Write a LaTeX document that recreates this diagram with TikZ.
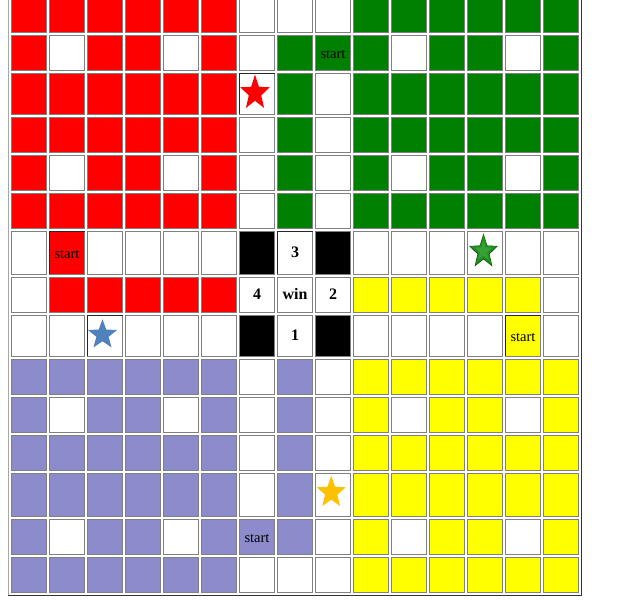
\documentclass[tikz,border=0pt]{standalone}
\usepackage{fontspec}
\setmainfont{Liberation Serif}
\definecolor{colR}{RGB}{255,0,0}
\definecolor{colG}{RGB}{0,128,0}
\definecolor{colY}{RGB}{255,255,0}
\definecolor{colP}{RGB}{140,140,204}
\definecolor{colW}{RGB}{255,255,255}
\definecolor{colK}{RGB}{0,0,0}
\definecolor{cellline}{RGB}{128,128,128}
\definecolor{starblue}{RGB}{79,129,189}
\definecolor{stargold}{RGB}{255,192,0}
\definecolor{stargreen}{RGB}{34,139,34}
\definecolor{stargreenlight}{RGB}{55,160,55}
\definecolor{stargreendark}{RGB}{15,95,15}
\newcommand\drawstar[5]{%
  \begin{scope}[shift={(#1,#2)},xscale=#3,yscale=-#4]
    \fill[#5] (90:1) \foreach \a in {1,...,4}{ -- (90+72*\a-36:0.42) -- (90+72*\a:1)} -- (54:0.42) -- cycle;
  \end{scope}}
\begin{document}
\begin{tikzpicture}[x=1pt,y=-1pt,
  cell/.style={rectangle, draw=cellline, line width=1pt, minimum width=35pt, inner sep=0pt, outer sep=0pt},
  starttext/.style={font=\fontsize{14.5}{16}\selectfont, inner sep=0pt, yshift=-1.5pt},
  numtext/.style={font=\bfseries\fontsize{16}{18}\selectfont, inner sep=0pt},
  darkedge/.style={draw=black!85, line width=1pt}]
\useasboundingbox (0,0) rectangle (641,603);
\clip (0,0) rectangle (641,603);
\fill[white] (0,0) rectangle (641,603);
\foreach \r/\t/\h/\codes in {
  0/-3.5/36/{R,R,R,R,R,R,W,W,W,G,G,G,G,G,G},
  1/34.5/36/{R,W,R,R,W,R,W,G,G,G,W,G,G,W,G},
  2/72.5/42/{R,R,R,R,R,R,W,G,W,G,G,G,G,G,G},
  3/116.5/36/{R,R,R,R,R,R,W,G,W,G,G,G,G,G,G},
  4/154.5/36/{R,W,R,R,W,R,W,G,W,G,W,G,G,W,G},
  5/192.5/36/{R,R,R,R,R,R,W,G,W,G,G,G,G,G,G},
  6/230.5/44/{W,R,W,W,W,W,K,W,K,W,W,W,W,W,W},
  7/276.5/36/{W,R,R,R,R,R,W,W,W,Y,Y,Y,Y,Y,W},
  8/314.5/42/{W,W,W,W,W,W,K,W,K,W,W,W,W,Y,W},
  9/358.5/36/{P,P,P,P,P,P,W,P,W,Y,Y,Y,Y,Y,Y},
  10/396.5/36/{P,W,P,P,W,P,W,P,W,Y,W,Y,Y,W,Y},
  11/434.5/36/{P,P,P,P,P,P,W,P,W,Y,Y,Y,Y,Y,Y},
  12/472.5/44/{P,P,P,P,P,P,W,P,W,Y,Y,Y,Y,Y,Y},
  13/518.5/36/{P,W,P,P,W,P,P,P,W,Y,W,Y,Y,W,Y},
  14/556.5/36/{P,P,P,P,P,P,W,W,W,Y,Y,Y,Y,Y,Y}}{
  \foreach \c [count=\j from 0] in \codes {
    \node[cell, fill=col\c, minimum height={(\h-1)*1pt}] (c-\r-\j) at ({29+38*\j},{\t+\h/2}) {};
  }
}
% darker top/left edges of some cells
\foreach \n in {c-2-6,c-8-2,c-8-13,c-6-1,c-6-7}
  \draw[darkedge] (\n.south west) -- (\n.north west) -- (\n.north east);
% texts
\node[starttext] (t-start-green) at (c-1-8) {start};
\node[starttext] (t-start-red) at (c-6-1) {start};
\node[starttext] (t-start-yellow) at (c-8-13) {start};
\node[starttext] (t-start-purple) at (c-13-6) {start};
\node[numtext] (t-3) at (c-6-7) {3};
\node[numtext] (t-4) at (c-7-6) {4};
\node[numtext] (t-win) at (c-7-7) {win};
\node[numtext] (t-2) at (c-7-8) {2};
\node[numtext] (t-1) at (c-8-7) {1};
% stars
\drawstar{255}{93}{15.5}{18.5}{colR}
\drawstar{102.5}{334.8}{15.3}{15.5}{starblue}
\drawstar{483.5}{251.7}{15.2}{18.4}{stargreendark}
\drawstar{483.5}{251.3}{13.6}{16.5}{stargreen}
\drawstar{483.5}{251.0}{9}{11}{stargreenlight}
\drawstar{331.2}{492.5}{15.2}{16.8}{stargold}
% table outer border
\draw[draw=gray!70, line width=1pt] (8.5,0) -- (8.5,595);
\draw[draw=black!80, line width=1.5pt] (8,595.3) -- (581.3,595.3) -- (581.3,0);
\end{tikzpicture}
\end{document}
